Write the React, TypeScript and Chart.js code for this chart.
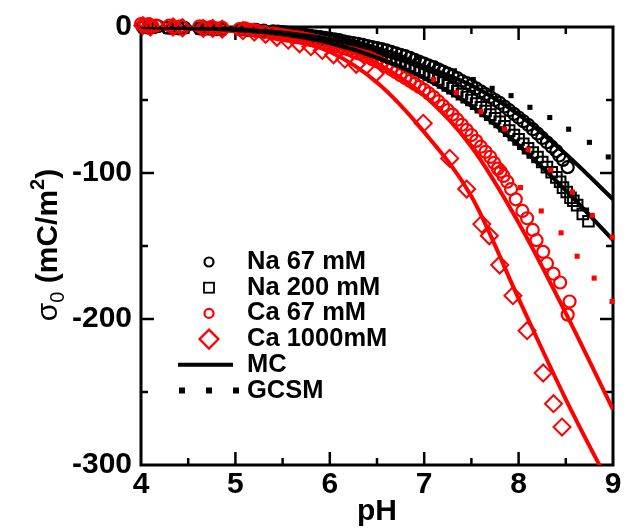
import { useEffect, useRef } from 'react';
import { Chart, registerables } from 'chart.js';

Chart.register(...registerables);

type P = [number, number];

// ---------- data (pH, surface charge in mC/m^2) ----------
const na67mM: P[] = [
  [4.02, 0], [4.08, -0.5], [4.12, 0], [4.18, 0.5],
  [4.28, -0.5], [4.34, 0], [4.40, -1], [4.46, -0.5],
  [4.62, -1], [4.68, -0.5], [4.74, -1], [4.80, -1.5], [4.86, -1],
  [5.06, -1.5], [5.14, -2], [5.22, -2], [5.30, -2.5],
  [5.40, -3], [5.50, -3.5], [5.60, -4], [5.70, -5], [5.80, -6], [5.90, -7],
  [6.00, -8], [6.10, -9], [6.20, -10.5], [6.30, -11.5], [6.40, -13], [6.50, -14.5],
  [6.60, -16], [6.70, -18], [6.80, -20], [6.90, -22.5], [7.00, -25], [7.10, -27.5],
  [7.20, -30.5], [7.30, -33.5], [7.40, -37], [7.50, -40], [7.60, -44], [7.70, -48],
  [7.80, -52], [7.90, -57], [8.00, -62], [8.10, -67], [8.20, -73], [8.30, -79],
  [8.40, -85], [8.47, -91], [8.52, -96],
];
const na67mMRun2: P[] = [
  [5.45, -3.2], [5.55, -3.8], [5.65, -4.5], [5.75, -5.5], [5.85, -6.5], [5.95, -7.5],
  [6.05, -8.5], [6.15, -9.8], [6.25, -11], [6.35, -12.2], [6.45, -13.8], [6.55, -15.2],
  [6.65, -17], [6.75, -19], [6.85, -21.2], [6.95, -23.8], [7.05, -26.5], [7.15, -29],
  [7.25, -32], [7.35, -35], [7.45, -38.5], [7.55, -42], [7.65, -46], [7.75, -50],
  [7.85, -54.5], [7.95, -59.5], [8.05, -64.5], [8.15, -70], [8.25, -76], [8.35, -82],
  [8.43, -88],
];

const na200mM: P[] = [
  [4.04, 0], [4.10, -0.5], [4.30, -0.5], [4.36, -1], [4.42, -0.5],
  [4.64, -1], [4.70, -1.5], [4.78, -1], [4.84, -1.5],
  [5.10, -2], [5.18, -2.5], [5.26, -3], [5.40, -3.5], [5.50, -4], [5.60, -5],
  [5.70, -6], [5.80, -7], [5.90, -8], [6.00, -9.5], [6.10, -11], [6.20, -12.5],
  [6.30, -14], [6.40, -16], [6.50, -18], [6.60, -20], [6.70, -22], [6.80, -25],
  [6.90, -28], [7.00, -31], [7.10, -34], [7.20, -38], [7.30, -42], [7.40, -46],
  [7.50, -50], [7.60, -55], [7.70, -60], [7.80, -65], [7.90, -71], [8.00, -77],
  [8.10, -83], [8.20, -89], [8.30, -96], [8.40, -103], [8.47, -110], [8.55, -117],
  [8.62, -122], [8.68, -128], [8.74, -133],
];
const na200mMRun2: P[] = [
  [5.45, -3.8], [5.55, -4.5], [5.65, -5.5], [5.75, -6.5], [5.85, -7.5], [5.95, -8.8],
  [6.05, -10.2], [6.15, -11.8], [6.25, -13.2], [6.35, -15], [6.45, -17], [6.55, -19],
  [6.65, -21], [6.75, -23.5], [6.85, -26.5], [6.95, -29.5], [7.05, -32.5], [7.15, -36],
  [7.25, -40], [7.35, -44], [7.45, -48], [7.55, -52.5], [7.65, -57.5], [7.75, -62.5],
  [7.85, -68], [7.95, -74], [8.05, -80], [8.15, -86], [8.25, -92.5], [8.35, -99.5],
  [8.44, -106], [8.51, -113], [8.58, -119],
];

const ca67mM: P[] = [
  [4.00, 2], [4.04, 1], [4.08, 2], [4.12, 0.5], [4.16, 1],
  [4.30, 1], [4.36, 0], [4.42, 0.5],
  [4.62, 0.5], [4.68, -0.5], [4.74, 0], [4.80, -1], [4.86, -0.5],
  [5.04, -1.5], [5.10, -1], [5.16, -2], [5.22, -2.5], [5.30, -3.5],
  [5.40, -4.5], [5.50, -5.5], [5.60, -6.5], [5.70, -7.5], [5.80, -9], [5.90, -10.5],
  [6.00, -12], [6.10, -13.5], [6.20, -15.5], [6.30, -18], [6.40, -20.5], [6.50, -23.5],
  [6.60, -27], [6.70, -31], [6.80, -35], [6.90, -39], [7.00, -43], [7.10, -48],
  [7.20, -54], [7.30, -60], [7.40, -67], [7.50, -74], [7.60, -82], [7.70, -89],
  [7.78, -97], [7.84, -102], [7.92, -111], [7.97, -118], [8.04, -126], [8.09, -131],
  [8.15, -139], [8.19, -146], [8.26, -154], [8.30, -162], [8.37, -169], [8.44, -175],
  [8.54, -188], [8.52, -197],
];
const ca67mMRun2: P[] = [
  [5.45, -5], [5.55, -6], [5.65, -7], [5.75, -8.2], [5.85, -9.8], [5.95, -11.2],
  [6.05, -12.8], [6.15, -14.5], [6.25, -16.8], [6.35, -19.2], [6.45, -22], [6.55, -25.2],
  [6.65, -29], [6.75, -33], [6.85, -37], [6.95, -41], [7.05, -45.5], [7.15, -51],
  [7.25, -57], [7.35, -63.5], [7.45, -70.5], [7.55, -78], [7.65, -85.5], [7.74, -93],
  [7.81, -99], [7.88, -106],
];

const ca1000mM: P[] = [
  [4.02, 1], [4.10, 0], [4.34, 0], [4.44, -0.5], [4.66, -1], [4.76, -1], [4.86, -1.5],
  [5.08, -2.5], [5.20, -3.5], [5.32, -5], [5.44, -7], [5.56, -9], [5.68, -11.5],
  [5.80, -13.5], [5.92, -16], [6.04, -19], [6.16, -22], [6.28, -25.5], [6.48, -32],
  [6.99, -66], [7.27, -90], [7.45, -111], [7.61, -135], [7.69, -143], [7.80, -163],
  [7.94, -184], [8.09, -208], [8.26, -237], [8.37, -258], [8.46, -274],
];

// MC simulation curves
const mcNa67: P[] = [[4, 0], [4.5, -0.5], [5, -1.5], [5.5, -4], [6, -8.5], [6.5, -16], [7, -27], [7.5, -40], [8, -60], [8.5, -87], [9, -118]];
const mcNa200: P[] = [[4, 0], [4.5, -0.8], [5, -2], [5.5, -5], [6, -11], [6.5, -21], [7, -35], [7.5, -54], [8, -81], [8.5, -112], [9, -146]];
const mcCa67: P[] = [[4, 0], [4.5, -0.8], [5, -2], [5.5, -5], [6, -12], [6.5, -25], [7, -47], [7.5, -82], [8, -134], [8.5, -196], [9, -262]];
const mcCa1000: P[] = [[4, 0], [4.5, -1], [5, -3], [5.5, -7], [6, -17], [6.5, -38], [7, -72], [7.5, -116], [8, -186], [8.5, -255], [9, -318]];

// GCSM model (dotted)
const gcsmBlack: P[] = [[6.92, -21], [7.12, -25], [7.32, -30], [7.52, -36], [7.72, -42], [7.92, -47], [8.12, -55], [8.33, -62], [8.53, -70], [8.75, -79], [8.95, -89]];
const gcsmRedA: P[] = [[7.10, -36], [7.34, -45], [7.60, -58], [7.85, -70], [8.10, -84], [8.34, -98], [8.57, -113], [8.78, -129], [8.99, -144]];
const gcsmRedB: P[] = [[7.82, -96], [8.02, -110], [8.24, -126], [8.45, -141], [8.62, -157], [8.80, -172], [8.99, -188]];

const legendLabels = ['Na 67 mM', 'Na 200 mM', 'Ca 67 mM', 'Ca 1000mM', 'MC', 'GCSM'];
const xMajorTicks = [5, 6, 7, 8];
const xMinorTicks = [4.5, 5.5, 6.5, 7.5, 8.5];
const yMajorTicks = [-100, -200];
const yMinorTicks = [-50, -150, -250];

const RED = '#ff0000';
const BLACK = '#000000';
const FONT = '"Liberation Sans", Arial, Helvetica, sans-serif';

const toXY = (d: P[]) => d.map(([x, y]) => ({ x, y }));

const markers = (label: string, d: P[], color: string, style: string, r: number, bw: number, order: number) => ({
  label,
  data: toXY(d),
  showLine: false,
  pointStyle: style,
  pointRadius: r,
  pointBorderWidth: bw,
  pointBorderColor: color,
  pointBackgroundColor: 'rgba(0,0,0,0)',
  borderColor: color,
  clip: false,
  order,
});

const mcLine = (label: string, d: P[], color: string) => ({
  label,
  data: toXY(d),
  showLine: true,
  borderColor: color,
  borderWidth: 4,
  pointRadius: 0,
  cubicInterpolationMode: 'monotone',
  fill: false,
  order: 1,
});

const gcsm = (label: string, d: P[], color: string) => ({
  label,
  data: toXY(d),
  showLine: false,
  pointStyle: 'rect',
  pointRadius: 3.6,
  pointBorderWidth: 0,
  pointBackgroundColor: color,
  pointBorderColor: color,
  clip: false,
  order: 0,
});

const decor = {
  id: 'decor',
  beforeDatasetsDraw(chart: any) {
    const { ctx, chartArea: a, scales } = chart;
    const x = scales.x;
    const y = scales.y;
    ctx.save();
    ctx.strokeStyle = BLACK;
    ctx.lineCap = 'butt';
    const seg = (x1: number, y1: number, x2: number, y2: number) => {
      ctx.beginPath();
      ctx.moveTo(x1, y1);
      ctx.lineTo(x2, y2);
      ctx.stroke();
    };
    ctx.lineWidth = 2.5;
    const majL = 13;
    const minL = 7;
    xMajorTicks.forEach((v) => {
      const p = x.getPixelForValue(v);
      seg(p, a.bottom, p, a.bottom - majL);
      seg(p, a.top, p, a.top + majL);
    });
    xMinorTicks.forEach((v) => {
      const p = x.getPixelForValue(v);
      seg(p, a.bottom, p, a.bottom - minL);
      seg(p, a.top, p, a.top + minL);
    });
    yMajorTicks.forEach((v) => {
      const p = y.getPixelForValue(v);
      seg(a.left, p, a.left + majL, p);
      seg(a.right, p, a.right - majL, p);
    });
    yMinorTicks.forEach((v) => {
      const p = y.getPixelForValue(v);
      seg(a.left, p, a.left + minL, p);
      seg(a.right, p, a.right - minL, p);
    });
    ctx.lineWidth = 3;
    ctx.strokeRect(a.left, a.top, a.right - a.left, a.bottom - a.top);

    // y-axis title: sigma_0 (mC/m^2), rotated
    ctx.save();
    ctx.translate(57, 245);
    ctx.rotate(-Math.PI / 2);
    ctx.fillStyle = BLACK;
    ctx.textBaseline = 'alphabetic';
    ctx.textAlign = 'left';
    const big = `bold 30px ${FONT}`;
    const sigma = `30px ${FONT}`;
    const small = `bold 20px ${FONT}`;
    const parts: [string, string, number][] = [
      ['σ', sigma, 0],
      ['0', `20px ${FONT}`, 7],
      [' (mC/m', big, 0],
      ['2', small, -13],
      [')', big, 0],
    ];
    let total = 0;
    parts.forEach(([t, f]) => { ctx.font = f; total += ctx.measureText(t).width; });
    let cx = -total / 2;
    parts.forEach(([t, f, dy]) => {
      ctx.font = f;
      ctx.fillText(t, cx, dy);
      cx += ctx.measureText(t).width;
    });
    ctx.restore();
    ctx.restore();
  },
  afterDraw(chart: any) {
    const { ctx } = chart;
    ctx.save();
    const symX = 209;
    const textX = 247;
    const base0 = 269;
    const step = 25.7;
    ctx.font = `bold 25.5px ${FONT}`;
    ctx.textBaseline = 'alphabetic';
    ctx.textAlign = 'left';
    legendLabels.forEach((t, i) => {
      const b = base0 + step * i;
      ctx.fillStyle = BLACK;
      ctx.fillText(t, textX, b);
      const cy = b - 7;
      ctx.lineWidth = 2.2;
      if (i === 0 || i === 2) {
        ctx.strokeStyle = i === 0 ? BLACK : RED;
        ctx.beginPath();
        ctx.arc(symX, cy, 4.5, 0, Math.PI * 2);
        ctx.stroke();
      } else if (i === 1) {
        ctx.strokeStyle = BLACK;
        ctx.lineWidth = 1.8;
        ctx.strokeRect(symX - 5, cy - 5, 10, 10);
      } else if (i === 3) {
        ctx.strokeStyle = RED;
        ctx.beginPath();
        ctx.moveTo(symX - 9.5, cy);
        ctx.lineTo(symX, cy - 9.5);
        ctx.lineTo(symX + 9.5, cy);
        ctx.lineTo(symX, cy + 9.5);
        ctx.closePath();
        ctx.stroke();
      } else if (i === 4) {
        ctx.strokeStyle = BLACK;
        ctx.lineWidth = 4;
        ctx.beginPath();
        ctx.moveTo(178, cy);
        ctx.lineTo(233, cy);
        ctx.stroke();
      } else {
        ctx.fillStyle = BLACK;
        [182, 209, 236].forEach((px) => ctx.fillRect(px - 3, cy - 3, 6, 6));
      }
    });
    ctx.restore();
  },
};

export default function App() {
  const ref = useRef<HTMLCanvasElement>(null);
  useEffect(() => {
    if (!ref.current) return;
    const chart = new Chart(ref.current, {
      type: 'scatter',
      data: {
        datasets: [
          gcsm('GCSM Na', gcsmBlack, BLACK),
          gcsm('GCSM Ca A', gcsmRedA, RED),
          gcsm('GCSM Ca B', gcsmRedB, RED),
          mcLine('MC Na 67', mcNa67, BLACK),
          mcLine('MC Na 200', mcNa200, BLACK),
          mcLine('MC Ca 67', mcCa67, RED),
          mcLine('MC Ca 1000', mcCa1000, RED),
          markers('Ca 1000mM', ca1000mM, RED, 'rectRot', 8.5, 2, 2),
          markers('Ca 67 mM', [...ca67mM, ...ca67mMRun2], RED, 'circle', 6, 2.2, 3),
          markers('Na 200 mM', [...na200mM, ...na200mMRun2], BLACK, 'rect', 7.5, 2, 4),
          markers('Na 67 mM', [...na67mM, ...na67mMRun2], BLACK, 'circle', 6, 2.2, 5),
        ] as any,
      },
      options: {
        responsive: false,
        animation: false,
        devicePixelRatio: 1,
        layout: { padding: { top: 20, right: 21, bottom: 0, left: 0 } },
        plugins: { legend: { display: false }, tooltip: { enabled: false } },
        scales: {
          x: {
            type: 'linear',
            min: 4,
            max: 9,
            grid: { display: false, drawTicks: false },
            border: { display: false },
            ticks: { stepSize: 1, padding: 2, color: BLACK, font: { family: FONT, size: 30, weight: 'bold' } },
            title: { display: true, text: 'pH', color: BLACK, padding: { top: 0, bottom: 2 }, font: { family: FONT, size: 30, weight: 'bold' } },
            afterFit: (s: any) => { s.height = 67; },
          },
          y: {
            type: 'linear',
            min: -300,
            max: 0,
            grid: { display: false, drawTicks: false },
            border: { display: false },
            ticks: { stepSize: 100, padding: 9, color: BLACK, font: { family: FONT, size: 30, weight: 'bold' } },
            afterFit: (s: any) => { s.width = 141; },
          },
        },
      } as any,
      plugins: [decor as any],
    });
    return () => chart.destroy();
  }, []);
  return (
    <div style={{ position: 'fixed', left: 0, top: 0, width: 634, height: 532, background: '#fff' }}>
      <canvas ref={ref} width={634} height={532} style={{ display: 'block' }} />
    </div>
  );
}
